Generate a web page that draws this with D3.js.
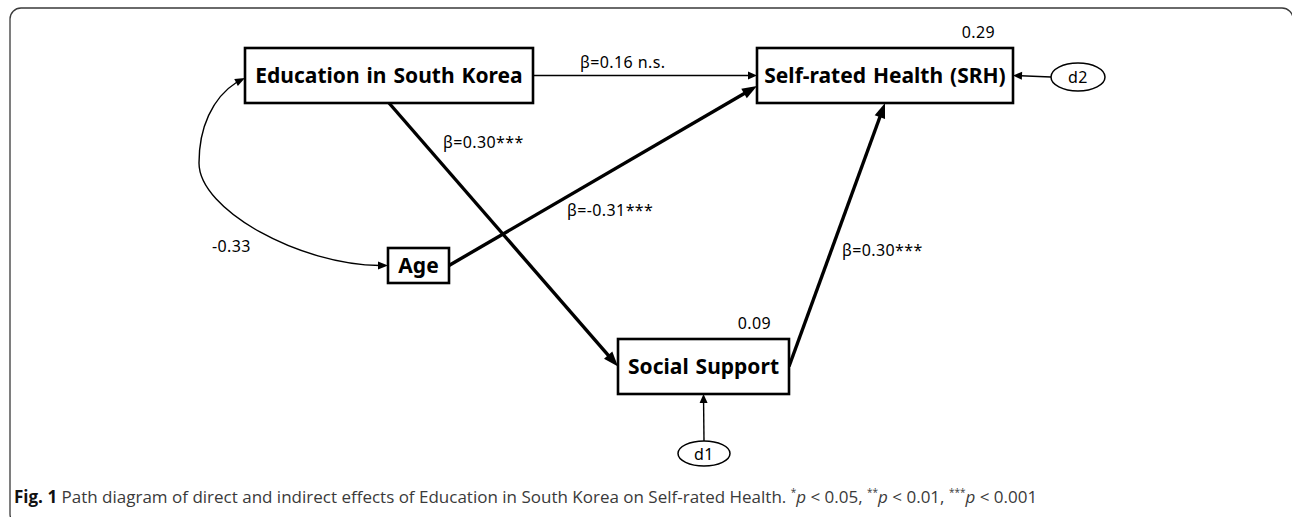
<!DOCTYPE html>
<html>
<head>
<meta charset="utf-8">
<script src="https://cdn.jsdelivr.net/npm/d3@7"></script>
<style>
  html, body { margin: 0; padding: 0; background: #fff; }
  svg { display: block; }
</style>
</head>
<body>
<div id="chart"></div>
<script>
// observed variables and their R² values
const nodeNames = ["Education in South Korea", "Self-rated Health (SRH)", "Age", "Social Support"];
const rSquared = [null, 0.29, null, 0.09];

// error terms and the node each one points to
const errorNames = ["d1", "d2"];
const errorTargets = ["Social Support", "Self-rated Health (SRH)"];

// structural paths (standardised coefficients)
const pathFrom = ["Education in South Korea", "Education in South Korea", "Age", "Social Support"];
const pathTo = ["Self-rated Health (SRH)", "Social Support", "Self-rated Health (SRH)", "Self-rated Health (SRH)"];
const pathBeta = [0.16, 0.30, -0.31, 0.30];
const pathSig = ["n.s.", "***", "***", "***"];

// correlation between exogenous variables
const covPair = ["Education in South Korea", "Age"];
const covValue = [-0.33];

const width = 1292, height = 517;

// layout (pixels): boxes, ports and label anchors
const boxes = {
    "Education in South Korea": { cx: 389, cy: 75.5, w: 288, h: 55 },
    "Self-rated Health (SRH)": { cx: 885, cy: 75.5, w: 256, h: 55 },
    "Age": { cx: 418.5, cy: 265.5, w: 61, h: 35 },
    "Social Support": { cx: 703.5, cy: 366.5, w: 171, h: 55 }
};
const ellipses = {
    d1: { cx: 704, cy: 453.5, rx: 26, ry: 12.5 },
    d2: { cx: 1078, cy: 77, rx: 27, ry: 14 }
};
const pathPorts = [
    { from: "right", to: "left", off: 0, label: [580, 68] },
    { from: "bottom", to: "left", off: 0, label: [443, 148] },
    { from: "right", to: "left", off: 10.5, label: [567, 216] },
    { from: "right", to: "bottom", off: 0, label: [842, 256] }
];
const pathWidth = [1.4, 3.4, 3.4, 3.4];

const port = (name, side, off = 0) => {
    const b = boxes[name];
    if (side === "left") return [b.cx - b.w / 2, b.cy + off];
    if (side === "right") return [b.cx + b.w / 2, b.cy + off];
    if (side === "top") return [b.cx + off, b.cy - b.h / 2];
    return [b.cx + off, b.cy + b.h / 2];
};

const svg = d3.select("#chart").append("svg")
    .attr("width", width)
    .attr("height", height);

// outer frame
svg.append("rect")
    .attr("x", 10).attr("y", 8)
    .attr("width", 1292 - 10 + 1).attr("height", 517)
    .attr("rx", 11)
    .attr("fill", "none")
    .attr("stroke", "#3a3a3a")
    .attr("stroke-width", 1.3);

const diagram = svg.append("g");
const FONT = "'Noto Sans', 'Open Sans', sans-serif";
const LABEL_SIZE = 16;

const label = (x, y, txt, anchor = "start") => diagram.append("text")
    .attr("x", x).attr("y", y)
    .attr("text-anchor", anchor)
    .attr("font-family", FONT)
    .attr("font-size", LABEL_SIZE)
    .attr("letter-spacing", 0.4)
    .attr("fill", "#000")
    .text(txt);

// filled triangle at a tip, pointing along ang
const head = (tip, ang, len, w) => {
    const ux = Math.cos(ang), uy = Math.sin(ang);
    const bx = tip[0] - ux * len, by = tip[1] - uy * len;
    diagram.append("path")
        .attr("d", `M${tip[0]},${tip[1]}L${bx - uy * w / 2},${by + ux * w / 2}L${bx + uy * w / 2},${by - ux * w / 2}Z`)
        .attr("fill", "#000");
};

// draw a line ending in a filled arrowhead
const arrow = (p0, p1, sw, headLen, headW) => {
    const ang = Math.atan2(p1[1] - p0[1], p1[0] - p0[0]);
    const back = [p1[0] - Math.cos(ang) * headLen * 0.85, p1[1] - Math.sin(ang) * headLen * 0.85];
    diagram.append("line")
        .attr("x1", p0[0]).attr("y1", p0[1])
        .attr("x2", back[0]).attr("y2", back[1])
        .attr("stroke", "#000")
        .attr("stroke-width", sw);
    head(p1, ang, headLen, headW);
};

// structural paths
pathFrom.forEach((f, i) => {
    const pp = pathPorts[i];
    const p0 = port(f, pp.from);
    const p1 = port(pathTo[i], pp.to, pp.off);
    const thick = pathWidth[i] > 2;
    arrow(p0, p1, pathWidth[i], thick ? 15 : 9, thick ? 11 : 8);
    const v = pathBeta[i].toFixed(2);
    label(pp.label[0], pp.label[1], `β=${v}${pathSig[i] === "n.s." ? " n.s." : pathSig[i]}`);
});

// error terms
errorNames.forEach((e, i) => {
    const el = ellipses[e];
    diagram.append("ellipse")
        .attr("cx", el.cx).attr("cy", el.cy)
        .attr("rx", el.rx).attr("ry", el.ry)
        .attr("fill", "#fff")
        .attr("stroke", "#000")
        .attr("stroke-width", 1.5);
    label(el.cx, el.cy + 6, e, "middle");
    const target = errorTargets[i];
    const start = e === "d1" ? [el.cx, el.cy - el.ry] : [el.cx - el.rx, el.cy];
    const end = e === "d1" ? port(target, "bottom") : port(target, "right");
    arrow(start, end, 1.4, 9, 8);
});

// covariance curve (Education <-> Age)
const cA = port(covPair[0], "left", 2.5);
const cB = port(covPair[1], "left");
const cv = d3.path();
cv.moveTo(cA[0] - 8, cA[1] + 4);
cv.bezierCurveTo(212, 98, 199, 128, 199, 163);
cv.bezierCurveTo(199, 210, 300, 265, cB[0] - 8, cB[1]);
diagram.append("path")
    .attr("d", cv.toString())
    .attr("fill", "none")
    .attr("stroke", "#000")
    .attr("stroke-width", 1.4);
head(cA, Math.atan2(-4, 8), 10, 8);
head(cB, 0, 10, 8);
label(212, 252, covValue[0].toFixed(2));

// boxes
nodeNames.forEach((n, i) => {
    const b = boxes[n];
    diagram.append("rect")
        .attr("x", b.cx - b.w / 2).attr("y", b.cy - b.h / 2)
        .attr("width", b.w).attr("height", b.h)
        .attr("fill", "#fff")
        .attr("stroke", "#000")
        .attr("stroke-width", 2.6);
    diagram.append("text")
        .attr("x", b.cx).attr("y", b.cy + 7.5)
        .attr("text-anchor", "middle")
        .attr("font-family", FONT)
        .attr("font-weight", "bold")
        .attr("font-size", 21)
        .attr("word-spacing", 1.5)
        .text(n);
    if (rSquared[i] !== null) {
        label(b.cx + b.w / 2 - 18, b.cy - b.h / 2 - 10, rSquared[i].toFixed(2), "end");
    }
});

// caption
const cap = svg.append("text")
    .attr("x", 14).attr("y", 503)
    .attr("font-family", "'Open Sans', sans-serif")
    .attr("font-size", 17)
    .attr("fill", "#3a3a3a");
cap.append("tspan").attr("font-weight", "bold").attr("fill", "#111").text("Fig. 1");
cap.append("tspan").text(" Path diagram of direct and indirect effects of Education in South Korea on Self-rated Health. ");
const sig = [["*", "0.05"], ["**", "0.01"], ["***", "0.001"]];
sig.forEach(([s, p], i) => {
    cap.append("tspan").attr("font-size", 10).attr("dy", -7).text(s);
    cap.append("tspan").attr("font-style", "italic").attr("dy", 7).text("p");
    cap.append("tspan").text(` < ${p}${i < sig.length - 1 ? ", " : ""}`);
});
</script>
</body>
</html>
